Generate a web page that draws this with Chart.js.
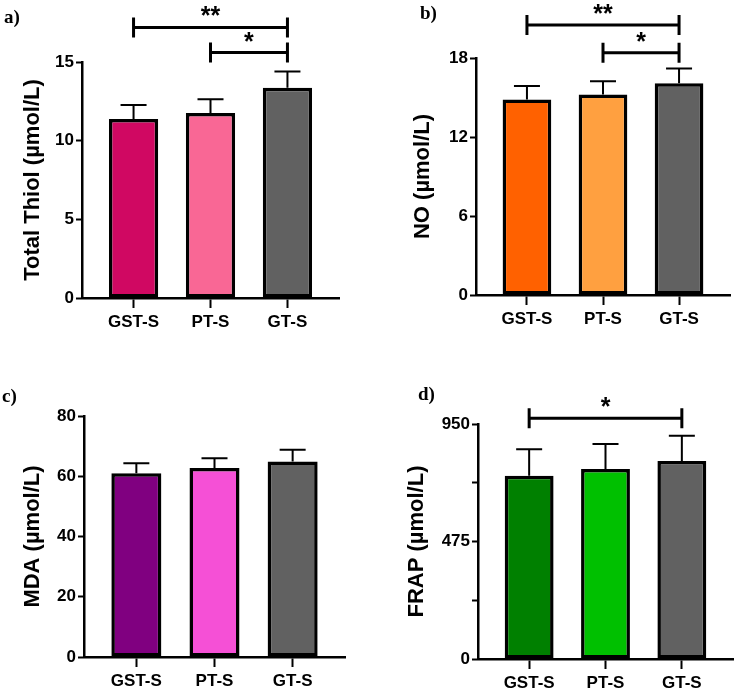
<!DOCTYPE html>
<html>
<head>
<meta charset="utf-8">
<script src="https://cdn.jsdelivr.net/npm/chart.js@4"></script>
<style>
  body { margin: 0; background: #fff; }
  #wrap { position: relative; width: 738px; height: 691px; }
  canvas { position: absolute; }
  .tag { position: absolute; font: bold 19px 'Liberation Serif', serif; line-height: 1; }
</style>
</head>
<body>
<div id="wrap">
  <canvas id="a" width="369" height="345" style="left:0;top:0"></canvas>
  <canvas id="b" width="369" height="345" style="left:369px;top:0"></canvas>
  <canvas id="c" width="369" height="346" style="left:0;top:345px"></canvas>
  <canvas id="d" width="369" height="346" style="left:369px;top:345px"></canvas>
  <div class="tag" style="left:4px;top:7px">a)</div>
  <div class="tag" style="left:420px;top:3px">b)</div>
  <div class="tag" style="left:2px;top:386px">c)</div>
  <div class="tag" style="left:418px;top:384px">d)</div>
</div>
<script>
const groups = ['GST-S', 'PT-S', 'GT-S'];

const thiolMean = [11.38, 11.76, 13.37];
const thiolSd = [0.89, 0.87, 1.02];
const thiolTicks = [0, 5, 10, 15];
const thiolSig = [[0, 2, '**', 17.2], [1, 2, '*', 15.6]];

const noMean = [14.85, 15.23, 16.08];
const noSd = [1.03, 1.01, 1.12];
const noTicks = [0, 6, 12, 18];
const noSig = [[0, 2, '**', 20.5], [1, 2, '*', 18.4]];

const mdaMean = [61.0, 62.7, 64.9];
const mdaSd = [3.3, 3.3, 3.9];
const mdaTicks = [0, 20, 40, 60, 80];
const mdaSig = [];

const frapMean = [741, 768, 800];
const frapSd = [107, 101, 103];
const frapTicks = [0, 237.5, 475, 712.5, 950];
const frapLabeled = [0, 475, 950];
const frapSig = [[0, 2, '*', 973]];

const FONT = "'Liberation Sans', Arial, sans-serif";

// error bars (upper only) and significance brackets
function makeExtras(means, sd, sig) {
  return {
    id: 'extras',
    afterDatasetsDraw(chart) {
      const { ctx, scales: { x, y } } = chart;
      ctx.save();
      ctx.strokeStyle = '#000';
      ctx.lineWidth = 2;
      means.forEach((m, i) => {
        const px = x.getPixelForValue(i);
        const top = y.getPixelForValue(m);
        const hi = y.getPixelForValue(m + sd[i]);
        ctx.beginPath();
        ctx.moveTo(px, top);
        ctx.lineTo(px, hi);
        ctx.moveTo(px - 13, hi);
        ctx.lineTo(px + 13, hi);
        ctx.stroke();
      });
      ctx.lineWidth = 3;
      ctx.fillStyle = '#000';
      ctx.font = 'bold 25px ' + FONT;
      ctx.textAlign = 'center';
      ctx.textBaseline = 'alphabetic';
      sig.forEach(([from, to, mark, val]) => {
        const x1 = x.getPixelForValue(from);
        const x2 = x.getPixelForValue(to);
        const py = y.getPixelForValue(val);
        ctx.beginPath();
        ctx.moveTo(x1, py);
        ctx.lineTo(x2, py);
        ctx.moveTo(x1, py - 10);
        ctx.lineTo(x1, py + 10);
        ctx.moveTo(x2, py - 10);
        ctx.lineTo(x2, py + 10);
        ctx.stroke();
        ctx.fillText(mark, (x1 + x2) / 2, py - 3);
      });
      ctx.restore();
    }
  };
}

function makeChart(id, cfg) {
  const labeled = cfg.labeled || cfg.ticks;
  return new Chart(document.getElementById(id), {
    type: 'bar',
    data: {
      datasets: [{
        data: cfg.means.map((m, i) => ({ x: i, y: m })),
        backgroundColor: cfg.colors,
        borderColor: '#000',
        borderWidth: 3.5,
        borderSkipped: false,
        categoryPercentage: 1,
        barPercentage: 0.64
      }]
    },
    options: {
      responsive: false,
      animation: false,
      layout: { padding: { top: cfg.top, right: cfg.right, left: 0, bottom: 0 } },
      plugins: { legend: { display: false }, tooltip: { enabled: false } },
      scales: {
        x: {
          type: 'linear',
          offset: false,
          min: -0.67,
          max: 2.67,
          afterBuildTicks: s => { s.ticks = groups.map((g, i) => ({ value: i })); },
          afterFit: s => { s.height = cfg.xHeight; },
          ticks: {
            callback: v => groups[v],
            color: '#000',
            font: { family: FONT, size: 17, weight: 'bold' },
            padding: 4,
            maxRotation: 0,
            autoSkip: false
          },
          grid: { offset: false, drawOnChartArea: false, tickLength: 10, tickColor: '#000', tickWidth: 2 },
          border: { color: '#000', width: 2.5 }
        },
        y: {
          min: 0,
          max: cfg.ticks[cfg.ticks.length - 1],
          afterBuildTicks: s => { s.ticks = cfg.ticks.map(v => ({ value: v })); },
          afterFit: s => { s.width = cfg.yWidth; },
          ticks: {
            callback: v => labeled.includes(v) ? v : '',
            color: '#000',
            font: { family: FONT, size: 17, weight: 'bold' },
            padding: 2
          },
          grid: { drawOnChartArea: false, tickLength: 6, tickColor: '#000', tickWidth: 2 },
          border: { color: '#000', width: 2.5 },
          title: {
            display: true,
            text: cfg.title,
            color: '#000',
            font: { family: FONT, size: 22, weight: 'bold' },
            padding: { top: cfg.titlePad, bottom: 0 }
          }
        }
      }
    },
    plugins: [makeExtras(cfg.means, cfg.sd, cfg.sig)]
  });
}

makeChart('a', {
  means: thiolMean, sd: thiolSd, ticks: thiolTicks, sig: thiolSig,
  title: 'Total Thiol (µmol/L)',
  colors: ['#d00862', '#f96795', '#616161'],
  top: 62, right: 30, yWidth: 82, xHeight: 47, titlePad: 20
});

makeChart('b', {
  means: noMean, sd: noSd, ticks: noTicks, sig: noSig,
  title: 'NO (µmol/L)',
  colors: ['#ff6100', '#ffa040', '#616161'],
  top: 58, right: 8, yWidth: 107, xHeight: 50, titlePad: 41
});

makeChart('c', {
  means: mdaMean, sd: mdaSd, ticks: mdaTicks, sig: mdaSig,
  title: 'MDA (µmol/L)',
  colors: ['#800080', '#f550d6', '#616161'],
  top: 71, right: 24, yWidth: 84, xHeight: 34, titlePad: 20
});

makeChart('d', {
  means: frapMean, sd: frapSd, ticks: frapTicks, labeled: frapLabeled, sig: frapSig,
  title: 'FRAP (µmol/L)',
  colors: ['#008000', '#00c000', '#616161'],
  top: 79, right: 5, yWidth: 109, xHeight: 32, titlePad: 35
});
</script>
</body>
</html>
